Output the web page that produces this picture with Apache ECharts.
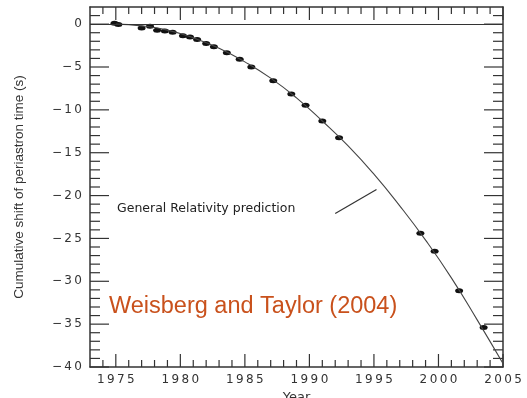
<meta charset="utf-8">
<script src="https://cdn.jsdelivr.net/npm/echarts@6/dist/echarts.min.js"></script>
<style>
  html, body { margin: 0; padding: 0; background: #fff; }
  #chart { width: 527px; height: 398px; }
</style>
<body>
<div id="chart"></div>
<script>

// timing residuals (year, seconds)
var obsYears = [1974.9, 1975.2, 1977.0, 1977.65, 1978.2, 1978.8, 1979.4, 1980.2, 1980.75, 1981.3, 1982.0, 1982.6,
                1983.6, 1984.6, 1985.5, 1987.2, 1988.6, 1989.7, 1991.0, 1992.3, 1998.6, 1999.7, 2001.6, 2003.5];
var obsShift = [0.1, -0.05, -0.45, -0.25, -0.7, -0.8, -0.95, -1.35, -1.5, -1.8, -2.25, -2.65,
                -3.35, -4.1, -5.0, -6.6, -8.15, -9.45, -11.3, -13.25, -24.4, -26.5, -31.1, -35.4];

// general relativity curve
var grYears = [1975, 1977, 1979, 1981, 1983, 1985, 1987, 1989, 1991, 1993, 1995, 1997, 1999, 2001, 2003, 2005];
var grShift = [0, -0.2, -0.7, -1.6, -2.8, -4.4, -6.3, -8.6, -11.3, -14.2, -17.5, -21.2, -25.2, -29.6, -34.5, -39.6];

// leader line of the annotation
var leaderFrom = [1992.0, -22.1];
var leaderTo = [1995.2, -19.3];

var xMin = 1973, xMax = 2005, yMin = -40, yMax = 2;
var xMajor = [1975, 1980, 1985, 1990, 1995, 2000, 2005];
var yMajor = [-40, -35, -30, -25, -20, -15, -10, -5, 0];
var xMinor = [], yMinor = [];
for (var yr = 1974; yr <= 2004; yr++) if (xMajor.indexOf(yr) < 0) xMinor.push(yr);
for (var sv = -39; sv <= 1; sv++) if (yMajor.indexOf(sv) < 0) yMinor.push(sv);

var ink = '#333';
var lab = { color: ink, fontFamily: 'DejaVu Sans', fontSize: 12 };

var spaced = function (s) { return String(s).split('').join('\u2009'); };

var frameLine = { show: true, onZero: false, lineStyle: { color: ink, width: 1.5 } };

var xAxes = [
  { type: 'value', position: 'bottom', min: xMin, max: xMax,
    axisLine: frameLine, axisTick: { show: false }, splitLine: { show: false },
    axisLabel: Object.assign({ customValues: xMajor, margin: 7, formatter: spaced }, lab),
    name: 'Year', nameLocation: 'middle', nameGap: 10,
    nameTextStyle: { color: ink, fontFamily: 'DejaVu Sans', fontSize: 13 } },
  { type: 'value', position: 'top', min: xMin, max: xMax,
    axisLine: frameLine, axisTick: { show: false }, splitLine: { show: false }, axisLabel: { show: false } }
];
var yAxes = [
  { type: 'value', position: 'left', min: yMin, max: yMax,
    axisLine: frameLine, axisTick: { show: false }, splitLine: { show: false },
    axisLabel: Object.assign({ customValues: yMajor, margin: 8,
      formatter: function (v) { return v == 0 ? '0' : '\u2212\u2009' + spaced(-v); } }, lab),
    name: 'Cumulative shift of periastron time (s)', nameLocation: 'middle', nameGap: 64,
    nameTextStyle: { color: ink, fontFamily: 'Liberation Sans Narrow, Liberation Sans, sans-serif', fontSize: 13.5 } },
  { type: 'value', position: 'right', min: yMin, max: yMax,
    axisLine: frameLine, axisTick: { show: false }, splitLine: { show: false }, axisLabel: { show: false } }
];

// inward ticks on all four sides, drawn at axis values
var seg = function (x1, y1, x2, y2) {
  return { type: 'line', shape: { x1: x1, y1: y1, x2: x2, y2: y2 }, style: { stroke: ink, lineWidth: 1.2 } };
};
var xTicks = function (vals, len) {
  return {
    type: 'custom', silent: true, z: 3, clip: false,
    data: vals.map(function (v) { return [v, yMin]; }),
    renderItem: function (params, api) {
      var b = api.coord([api.value(0), yMin]), t = api.coord([api.value(0), yMax]);
      return { type: 'group', children: [seg(b[0], b[1], b[0], b[1] - len), seg(t[0], t[1], t[0], t[1] + len)] };
    }
  };
};
var yTicks = function (vals, len) {
  return {
    type: 'custom', silent: true, z: 3, clip: false,
    data: vals.map(function (v) { return [xMin, v]; }),
    renderItem: function (params, api) {
      var l = api.coord([xMin, api.value(1)]), r = api.coord([xMax, api.value(1)]);
      return { type: 'group', children: [seg(l[0], l[1], l[0] + len, l[1]), seg(r[0], r[1], r[0] - len, r[1])] };
    }
  };
};

var chart = echarts.init(document.getElementById('chart'));

chart.setOption({
  animation: false,
  backgroundColor: '#fff',
  grid: { left: 90, right: 24, top: 7, bottom: 31, outerBoundsMode: 'none' },
  xAxis: xAxes,
  yAxis: yAxes,
  series: [
    xTicks(xMajor, 13), xTicks(xMinor, 7), yTicks(yMajor, 19), yTicks(yMinor, 10),
    {
      name: 'GR', type: 'line', smooth: true, symbol: 'none',
      data: grYears.map(function (y, i) { return [y, grShift[i]]; }),
      lineStyle: { color: '#444', width: 1.1 },
      markLine: {
        silent: true, symbol: 'none', label: { show: false },
        lineStyle: { color: ink, width: 1.2, type: 'solid' },
        data: [
          { yAxis: 0 },
          [{ coord: leaderFrom }, { coord: leaderTo }]
        ]
      }
    },
    {
      name: 'obs', type: 'scatter', symbol: 'circle', symbolSize: [8, 5],
      data: obsYears.map(function (y, i) { return [y, obsShift[i]]; }),
      itemStyle: { color: '#111', opacity: 1 }
    }
  ],
  graphic: [
    { type: 'text', style: { x: 117, y: 209, text: 'General Relativity prediction', verticalAlign: 'middle',
      fill: '#222', font: '12.5px "DejaVu Sans"' } },
    { type: 'text', style: { x: 109, y: 307, text: 'Weisberg and Taylor (2004)', verticalAlign: 'middle',
      fill: '#c9511c', font: '23.5px "Liberation Sans"' } }
  ]
});
</script>
</body>
